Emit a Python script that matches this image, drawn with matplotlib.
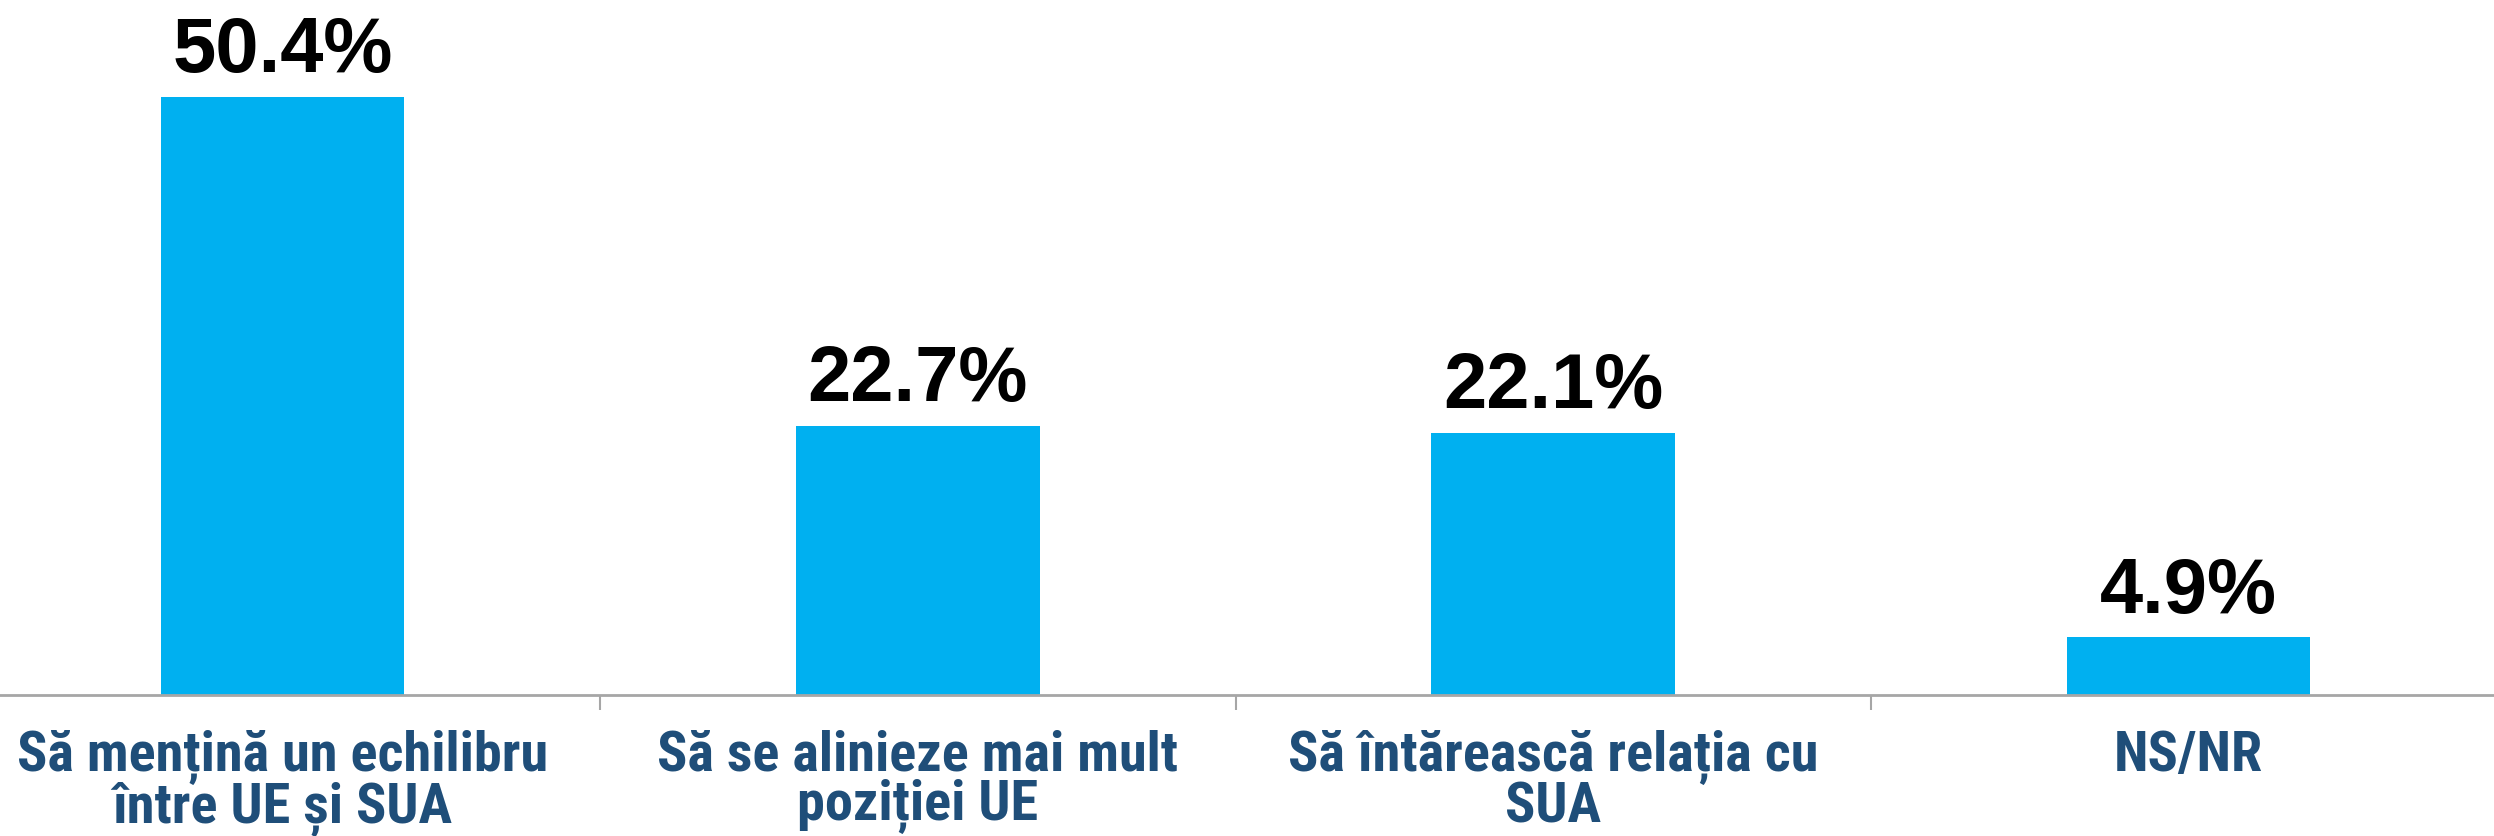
import matplotlib
matplotlib.use("Agg")
import matplotlib.pyplot as plt

categories = ["Să mențină un echilibru\nîntre UE și SUA",
              "Să se alinieze mai mult\npoziției UE",
              "Să întărească relația cu\nSUA",
              "NS/NR"]
values = [50.4, 22.7, 22.1, 4.9]
value_labels = ["50.4%", "22.7%", "22.1%", "4.9%"]

W, H, DPI = 2494, 836, 100
fig = plt.figure(figsize=(W / DPI, H / DPI), dpi=DPI)
left_px, right_px = -35, 2506
bottom_px = 141
top_px = 836 - 40
ax = fig.add_axes([left_px / W, bottom_px / H, (right_px - left_px) / W, (top_px - bottom_px) / H])

x = list(range(len(categories)))
ax.bar(x, values, width=0.383, color="#00B0F0")
ax.set_xlim(-0.5, len(categories) - 0.5)
ax.set_ylim(0, (top_px - bottom_px) / 11.87)

for xi, v, lab in zip(x, values, value_labels):
    ax.annotate(lab, (xi, v), xytext=(0, 6), textcoords="offset points",
                ha="center", va="bottom", fontsize=56, fontweight="bold",
                family=["Liberation Sans", "DejaVu Sans"], color="black")

for s in ["top", "right", "left"]:
    ax.spines[s].set_visible(False)
ax.spines["bottom"].set_color("#A6A6A6")
ax.spines["bottom"].set_linewidth(2)
ax.set_yticks([])
ax.set_xticks(x)
ax.set_xticklabels(categories, fontsize=40.5, fontweight="bold",
                   family=["Roboto Condensed", "DejaVu Sans"],
                   color="#1F4E79", linespacing=0.92)
ax.tick_params(axis="x", which="major", length=0, pad=25)
ax.set_xticks([0.5, 1.5, 2.5], minor=True)
ax.tick_params(axis="x", which="minor", length=11, width=1.5, color="#A6A6A6", direction="out")

fig.savefig("out.png", dpi=DPI)
